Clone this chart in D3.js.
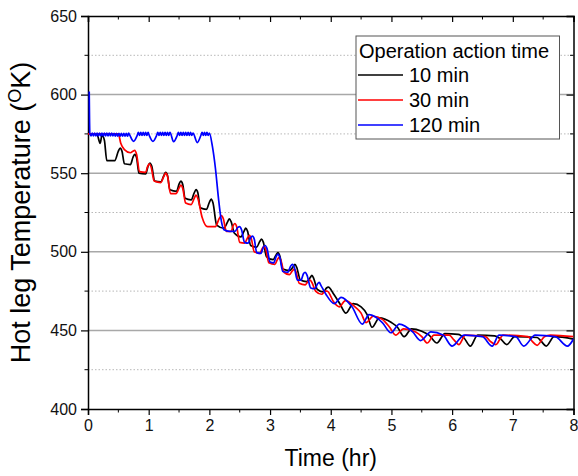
<!DOCTYPE html>
<html>
<head>
<meta charset="utf-8">
<script src="https://cdn.jsdelivr.net/npm/d3@7"></script>
<style>
  body { margin: 0; background: #fff; }
  text { font-family: "Liberation Sans", Arial, sans-serif; }
</style>
</head>
<body>
<div id="chart"></div>
<script>
// data: [time (hr), temperature (K)]
const timeTicks = [0, 1, 2, 3, 4, 5, 6, 7, 8];
const tempTicks = [400, 450, 500, 550, 600, 650];
const minorTemps = [425, 475, 525, 575, 625];
const minorTimes = [0.5, 1.5, 2.5, 3.5, 4.5, 5.5, 6.5, 7.5];

const legendTitle = "Operation action time";
const seriesNames = ["10 min", "30 min", "120 min"];
const seriesColors = ["#000000", "#ff0000", "#0000ff"];

const run10 = [
  [0,575],[0.08,575],[0.15,574.5],[0.2,569],[0.23,574],[0.27,571],[0.31,558],
  [0.44,558],[0.5,564],[0.53,566],[0.56,564],[0.6,556],
  [0.7,555.5],[0.74,560],[0.77,562],[0.8,560],[0.84,550],
  [0.95,549.5],[0.99,554.5],[1.02,556.5],[1.05,554.5],[1.1,545],
  [1.2,544.5],[1.25,548.5],[1.28,550.5],[1.31,548.5],[1.35,539.5],
  [1.46,538.5],[1.5,543],[1.53,545],[1.56,543],[1.6,534],
  [1.7,533],[1.75,537.5],[1.78,539.5],[1.81,537.5],[1.85,528],
  [1.95,527],[2.0,531.5],[2.03,533.5],[2.06,531],[2.12,517],
  [2.24,515],[2.3,519],[2.33,521],[2.36,519],[2.41,512],
  [2.52,509.5],[2.57,513],[2.6,515],[2.63,513],[2.68,504],
  [2.78,503],[2.83,506.5],[2.86,508],[2.89,506],[2.94,497],
  [3.05,495],[3.1,498],[3.13,499.5],[3.16,497.5],[3.21,489],
  [3.32,488],[3.38,490.5],[3.41,492],[3.44,490],[3.5,482],
  [3.6,481],[3.66,483.5],[3.69,485],[3.72,483],[3.78,476],
  [3.88,474.5],[3.93,477],[3.96,477.5],[4.05,473],
  [4.15,467],[4.25,461],[4.37,467],[4.5,465],[4.6,460],[4.68,452],[4.8,458],
  [5.0,455],[5.1,452],[5.21,446],[5.33,451],[5.5,449.5],[5.62,447],[5.75,442],[5.88,448],
  [6.1,447.5],[6.2,445],[6.3,440],[6.42,447],[6.7,446.5],[6.8,444.5],[6.9,441],[7.03,446],
  [7.4,445.5],[7.47,443],[7.55,440],[7.68,446],[8.0,444.5]
];

const run30 = [
  [0,575],[0.25,575],[0.5,575],[0.54,569],[0.6,565],
  [0.7,563],[0.74,564],[0.77,564.5],[0.8,562],[0.85,551],
  [0.95,550.5],[0.98,554],[1.01,556],[1.04,554],[1.09,545],
  [1.2,544],[1.25,548],[1.28,550],[1.31,548],[1.36,537],
  [1.45,537],[1.5,540.5],[1.53,542.5],[1.56,540.5],[1.61,531],
  [1.7,530],[1.75,534],[1.78,536],[1.81,534],[1.88,522],[1.97,516],
  [2.1,516],[2.16,521],[2.2,523],[2.23,521],[2.28,513],
  [2.36,513],[2.39,516.5],[2.42,518],[2.45,516],[2.5,506],
  [2.58,505.5],[2.63,509],[2.66,510.5],[2.69,508.5],[2.74,500],
  [2.83,499],[2.87,502],[2.9,503.5],[2.93,501.5],[2.98,493],
  [3.08,492],[3.12,495],[3.15,496.5],[3.18,494.5],[3.23,487],
  [3.32,485.5],[3.37,488],[3.4,489],[3.43,487],[3.48,480],
  [3.58,479],[3.63,481.5],[3.66,482],[3.69,480.5],[3.75,475],
  [3.85,473],[3.91,475],[3.94,475],[4.05,468],[4.14,465],[4.24,469],
  [4.4,465],[4.5,461],[4.58,455],[4.7,459],[4.85,457],[4.97,452],[5.07,447],[5.2,451],
  [5.4,449],[5.5,446],[5.59,442],[5.7,447],[5.95,447],[6.03,444],[6.11,441],[6.22,447],
  [6.55,446],[6.63,443],[6.72,441],[6.84,447],[7.25,446],[7.32,443],[7.4,440.5],[7.52,446],
  [7.62,447],[8.0,446]
];

const run120 = [
  [0.02,602],[0.03,575.5],[0.05,573.8],[0.07,575.5],[0.09,573.8],[0.11,575.5],[0.13,573.8],
  [0.15,575.5],[0.17,573.8],[0.19,575.5],[0.21,573.8],[0.23,575.5],[0.25,573.8],[0.27,575.5],
  [0.29,573.8],[0.31,575.5],[0.33,573.8],[0.35,575.5],[0.37,573.8],[0.39,575.5],[0.41,573.8],
  [0.43,575.3],[0.45,573.5],[0.47,575.3],[0.49,573.5],[0.51,575.3],[0.53,573.5],[0.55,575.3],
  [0.57,573.5],[0.59,575.3],[0.61,573.5],[0.63,575.3],[0.65,573.5],[0.67,575.5],[0.69,574],
  [0.75,570.3],[0.81,574],[0.83,576],[0.85,574],[0.87,576],[0.89,574],[0.91,576],[0.93,574],
  [0.95,576],[0.97,574],[0.99,576],[1.01,574],[1.07,570.3],[1.13,574],[1.15,576],[1.17,574],
  [1.19,576],[1.21,574],[1.23,576],[1.25,574],[1.27,576],[1.29,574],[1.31,576],[1.33,574],
  [1.35,576],[1.41,570],[1.47,574],[1.49,576],[1.51,574],[1.53,576],[1.55,574],[1.57,576],
  [1.59,574],[1.61,576],[1.63,574],[1.65,576],[1.67,574],[1.69,576],[1.71,574],[1.73,575.5],
  [1.8,569.5],[1.86,574],[1.88,576],[1.9,574],[1.92,576],[1.94,574],[1.96,576],[1.98,574],
  [2.0,575.5],[2.05,567],[2.1,553],[2.15,534],[2.2,519],[2.24,514],
  [2.33,513],[2.42,513],[2.47,515.5],[2.5,516],[2.53,514],[2.58,506],
  [2.64,505.5],[2.68,509],[2.71,510],[2.74,508],[2.78,499.5],
  [2.85,499],[2.89,503],[2.92,504],[2.95,502],[3.0,493.5],
  [3.06,493],[3.1,497],[3.13,498.5],[3.16,496.5],[3.21,487.5],
  [3.29,487],[3.34,491],[3.37,492],[3.4,490],[3.45,482],
  [3.51,482],[3.55,486],[3.58,487],[3.61,485],[3.67,477],
  [3.74,476.5],[3.78,479.5],[3.81,480.5],[3.84,478.5],[3.92,473],
  [4.06,467],[4.17,471],
  [4.35,465],[4.52,454],[4.63,460],[4.85,455],[4.99,448.5],[5.13,454],[5.35,449],[5.48,443.5],
  [5.65,449],[5.85,447],[6.0,440],[6.2,447],[6.5,446],[6.66,440],[6.77,447],[7.05,446],
  [7.18,440],[7.37,447],[7.7,446],[7.9,440],[8.0,444.5]
];

const allRuns = [run10, run30, run120];

const width = 578, height = 476;
const pLeft = 88, pRight = 573.5, pTop = 16, pBottom = 409;

const svg = d3.select("#chart").append("svg")
  .attr("width", width)
  .attr("height", height);

const x = d3.scaleLinear().domain([0, 8]).range([pLeft, pRight]);
const y = d3.scaleLinear().domain([400, 650]).range([pBottom, pTop]);

// grid
svg.append("g")
  .selectAll("line")
  .data(tempTicks.filter(d => d > 400 && d < 650))
  .join("line")
  .attr("x1", pLeft).attr("x2", pRight)
  .attr("y1", d => y(d)).attr("y2", d => y(d))
  .attr("stroke", "#a8a8a8")
  .attr("stroke-width", 1.5);

svg.append("g")
  .selectAll("line")
  .data(minorTemps)
  .join("line")
  .attr("x1", pLeft).attr("x2", pRight)
  .attr("y1", d => y(d)).attr("y2", d => y(d))
  .attr("stroke", "#b8b8b8")
  .attr("stroke-width", 1)
  .attr("stroke-dasharray", "1.5,2");

// axes
const fmt = d3.format("d");

const xAxis = svg.append("g")
  .attr("transform", `translate(0,${pBottom})`)
  .call(d3.axisBottom(x).tickValues(timeTicks).tickFormat(fmt).tickSize(6).tickPadding(5));
xAxis.append("g").selectAll("line")
  .data(minorTimes).join("line")
  .attr("x1", d => x(d)).attr("x2", d => x(d))
  .attr("y1", 0).attr("y2", 3.5)
  .attr("stroke", "#000");

const yAxis = svg.append("g")
  .attr("transform", `translate(${pLeft},0)`)
  .call(d3.axisLeft(y).tickValues(tempTicks).tickFormat(fmt).tickSize(7).tickPadding(4));
yAxis.append("g").selectAll("line")
  .data(minorTemps).join("line")
  .attr("y1", d => y(d)).attr("y2", d => y(d))
  .attr("x1", 0).attr("x2", -3.5)
  .attr("stroke", "#000");

const topAxis = svg.append("g")
  .attr("transform", `translate(0,${pTop})`)
  .call(d3.axisTop(x).tickValues(timeTicks).tickFormat("").tickSize(-6));
topAxis.append("g").selectAll("line")
  .data(minorTimes).join("line")
  .attr("x1", d => x(d)).attr("x2", d => x(d))
  .attr("y1", 0).attr("y2", 3.5)
  .attr("stroke", "#000");

const rightAxis = svg.append("g")
  .attr("transform", `translate(${pRight},0)`)
  .call(d3.axisRight(y).tickValues(tempTicks).tickFormat("").tickSize(-7));
rightAxis.append("g").selectAll("line")
  .data(minorTemps).join("line")
  .attr("y1", d => y(d)).attr("y2", d => y(d))
  .attr("x1", 0).attr("x2", -3.5)
  .attr("stroke", "#000");

svg.selectAll(".domain").attr("stroke", "#000").attr("stroke-width", 1.5);
svg.selectAll(".tick line").attr("stroke", "#000").attr("stroke-width", 1.2);
svg.selectAll(".tick text").attr("font-size", 16).attr("fill", "#111")
  .style("font-family", '"Liberation Sans", Arial, sans-serif');

// series lines, drawn over the frame like the original
svg.append("clipPath").attr("id", "plot")
  .append("rect")
  .attr("x", pLeft).attr("y", pTop)
  .attr("width", pRight - pLeft).attr("height", pBottom - pTop);

const line = d3.line()
  .x(d => x(d[0]))
  .y(d => y(d[1]))
  .curve(d3.curveMonotoneX);

svg.append("g")
  .attr("clip-path", "url(#plot)")
  .selectAll("path")
  .data(allRuns)
  .join("path")
  .attr("fill", "none")
  .attr("stroke", (d, i) => seriesColors[i])
  .attr("stroke-width", 1.7)
  .attr("stroke-linejoin", "round")
  .attr("d", line);

// axis titles
svg.append("text")
  .attr("x", (pLeft + pRight) / 2)
  .attr("y", 466)
  .attr("text-anchor", "middle")
  .attr("font-size", 23)
  .text("Time (hr)");

const yt = svg.append("text")
  .attr("transform", `translate(30,${(pTop + pBottom) / 2}) rotate(-90)`)
  .attr("text-anchor", "middle")
  .attr("font-size", 27);
yt.append("tspan").text("Hot leg Temperature (");
yt.append("tspan").attr("font-size", 18).attr("dy", -9).text("O");
yt.append("tspan").attr("dy", 9).text("K)");

// legend
const lg = svg.append("g");
lg.append("rect")
  .attr("x", 356).attr("y", 36)
  .attr("width", 203.5).attr("height", 103)
  .attr("fill", "#fff")
  .attr("stroke", "#555")
  .attr("stroke-width", 1);
lg.append("text")
  .attr("x", 359).attr("y", 58)
  .attr("font-size", 20)
  .text(legendTitle);
seriesNames.forEach((name, i) => {
  const ly = 75 + i * 25;
  lg.append("line")
    .attr("x1", 358).attr("x2", 403)
    .attr("y1", ly).attr("y2", ly)
    .attr("stroke", seriesColors[i])
    .attr("stroke-width", 1.5);
  lg.append("text")
    .attr("x", 409).attr("y", ly + 7)
    .attr("font-size", 20)
    .text(name);
});
</script>
</body>
</html>
